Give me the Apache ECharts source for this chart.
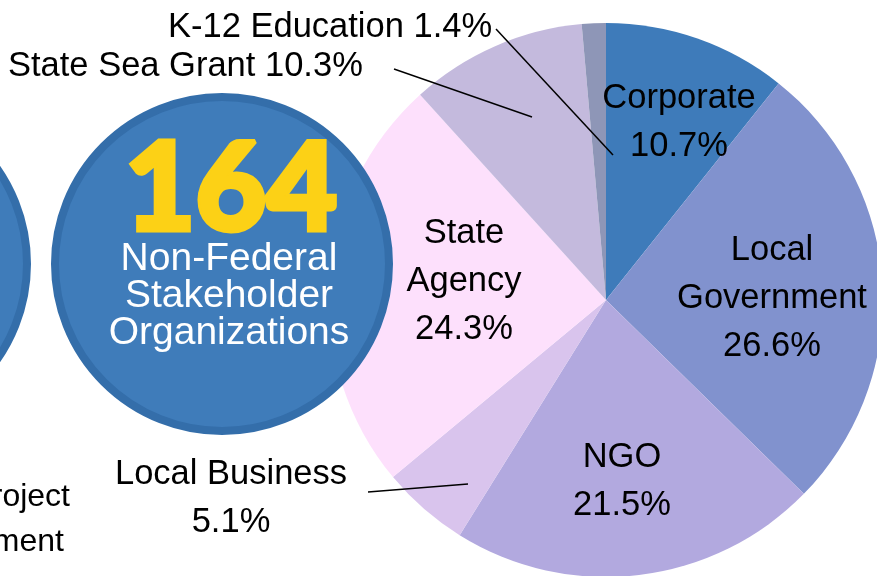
<!DOCTYPE html>
<html>
<head>
<meta charset="utf-8">
<title>Non-Federal Stakeholder Organizations</title>
<script src="https://cdn.jsdelivr.net/npm/echarts@6/dist/echarts.min.js"></script>
<style>
  html, body { margin: 0; padding: 0; background: #fff; }
  #chart { width: 877px; height: 576px; }
</style>
</head>
<body>
<div id="chart"></div>
<script>
// stakeholder shares (%), clockwise from 12 o'clock
const categories = ['Corporate', 'Local Government', 'NGO', 'Local Business', 'State Agency', 'State Sea Grant', 'K-12 Education']
const shares = [10.7, 26.6, 21.5, 5.1, 24.3, 10.3, 1.4]
// how each label is broken into lines
const labelNames = ['Corporate', 'Local\nGovernment', 'NGO', 'Local Business', 'State\nAgency', 'State Sea Grant', 'K-12 Education']
const inlinePct = [false, false, false, false, false, true, true]
const totalOrgs = 164

const colors = ['#3e7bba', '#8192ce', '#b2a9df', '#d9c4ed', '#fde0fc', '#c4badd', '#8e96b7']
const font = '"Liberation Sans", Arial, Helvetica, sans-serif'

// label placement (x, y, align) and leader lines for the outside labels
const labelSpots = [
    { x: 679, y: 122, align: 'center' },
    { x: 772, y: 298, align: 'center' },
    { x: 622, y: 481, align: 'center' },
    { x: 231, y: 498, align: 'center', line: [[368, 492], [468, 484]] },
    { x: 464, y: 281, align: 'center' },
    { x: 8, y: 66, align: 'left', line: [[394, 69], [532, 117]] },
    { x: 168, y: 27, align: 'left', line: [[496, 29], [613, 155]] }
]

const chart = echarts.init(document.getElementById('chart'), null, { renderer: 'canvas' })

const pieData = categories.map((name, i) => ({
    name,
    value: shares[i],
    itemStyle: { color: colors[i] }
}))

function bubble(cx) {
    return {
        type: 'circle',
        z: 10,
        shape: { cx: cx, cy: 264, r: 167 },
        style: { fill: '#3f7cba', stroke: '#346eaa', lineWidth: 8 }
    }
}

// leader lines sit on top of the slices
const leaders = labelSpots.filter(s => s.line).map(s => ({
    type: 'polyline',
    z: 12,
    shape: { points: s.line },
    style: { stroke: '#000', lineWidth: 1.5, fill: null }
}))

chart.setOption({
    animation: false,
    series: [{
        type: 'pie',
        center: [606, 300],
        radius: 277,
        startAngle: 90,
        clockwise: true,
        avoidLabelOverlap: false,
        data: pieData,
        itemStyle: { borderWidth: 0 },
        label: {
            position: 'inside',
            color: '#000',
            fontFamily: font,
            fontSize: 34.5,
            lineHeight: 48,
            formatter: p => {
                const i = p.dataIndex
                const pct = shares[i].toFixed(1) + '%'
                return inlinePct[i] ? labelNames[i] + ' ' + pct : labelNames[i] + '\n' + pct
            }
        },
        labelLine: { show: false },
        labelLayout: params => {
            const s = labelSpots[params.dataIndex]
            return { x: s.x, y: s.y, align: s.align, verticalAlign: 'middle' }
        },
        emphasis: { disabled: true }
    }],
    graphic: [
        bubble(-140),
        bubble(222),
        {
            type: 'text',
            z: 11,
            x: 231,
            y: 191,
            style: {
                text: String(totalOrgs),
                fontFamily: 'Lato, Roboto, sans-serif',
                fontWeight: 900,
                fontSize: 122,
                fill: '#fcd116',
                stroke: '#fcd116',
                lineWidth: 5,
                align: 'center',
                verticalAlign: 'middle'
            }
        },
        {
            type: 'text',
            z: 11,
            x: 229,
            y: 296,
            style: {
                text: 'Non-Federal\nStakeholder\nOrganizations',
                fontFamily: font,
                fontSize: 39,
                lineHeight: 37,
                fill: '#fff',
                align: 'center',
                verticalAlign: 'middle'
            }
        },
        {
            type: 'text',
            z: 11,
            x: 70,
            y: 497,
            style: { text: 'Project', fontFamily: font, fontSize: 32, fill: '#000', align: 'right', verticalAlign: 'middle' }
        },
        {
            type: 'text',
            z: 11,
            x: 64,
            y: 542,
            style: { text: 'Management', fontFamily: font, fontSize: 32, fill: '#000', align: 'right', verticalAlign: 'middle' }
        }
    ].concat(leaders)
})
</script>
</body>
</html>
